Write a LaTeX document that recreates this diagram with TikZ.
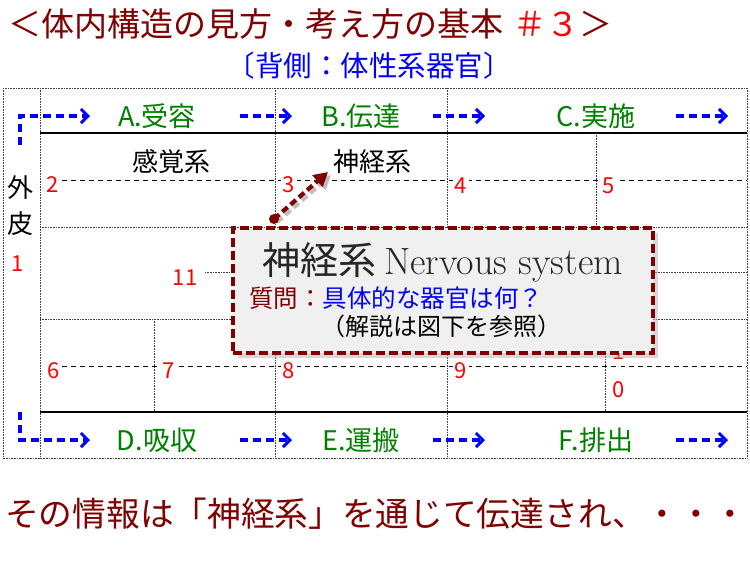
\documentclass[tikz,border=0pt]{standalone}
\usepackage{fontspec}
\setmainfont{Noto Sans CJK JP}
\newfontfamily\lmfont{Latin Modern Roman}
\usetikzlibrary{arrows.meta, positioning, shadows, calc}
\definecolor{darkred}{HTML}{800000}
\definecolor{leafgreen}{HTML}{008000}
\newcommand{\fsz}[1]{\fontsize{#1}{#1}\selectfont}

\begin{document}
\begin{tikzpicture}[x=1pt, y=-1pt,
    grid/.style={densely dotted, line width=0.6pt, black!75},
    rule/.style={line width=1.3pt},
    guide/.style={dash pattern=on 5pt off 4pt, line width=1pt},
    flow/.style={blue, line width=3.2pt, dash pattern=on 8pt off 5pt,
        -{Straight Barb[length=7pt, width=14pt, line width=3pt]}},
    stage/.style={text=leafgreen, font=\fsz{27}, inner sep=1pt},
    organ/.style={font=\fsz{26}, inner sep=1pt},
    num/.style={text=red, font=\fsz{22}, fill=white, inner sep=1.5pt},
    callout/.style={draw=darkred, fill=black!6, line width=3.4pt,
        dash pattern=on 9pt off 4pt, minimum width=420pt, minimum height=125pt,
        drop shadow={shadow xshift=5pt, shadow yshift=-5pt, fill=black!30}},
    pointer/.style={line width=4.2pt, dash pattern=on 7pt off 4pt,
        -{Triangle[length=14pt, width=15pt]}}
]
    \useasboundingbox (0,0) rectangle (750,563);
    % titles
    \node[anchor=west, font=\fsz{33}, text=darkred, inner sep=0] (title) at (8,24)
        {＜体内構造の見方・考え方の基本\hspace{10pt}\textcolor{red}{＃３}＞};
    \node[font=\fsz{28.5}, text=blue, inner sep=0] (subtitle) at (369,66) {〔背側：体性系器官〕};

    % table frame
    \draw[grid] (3,88) rectangle (747,458);
    \foreach \x in {40,275,447}
        \draw[grid] (\x,88) -- (\x,458);
    \draw[grid] (596,133) -- (596,227);
    \draw[grid] (154,319) -- (154,412);
    \draw[grid] (605,319) -- (605,412);
    \foreach \y in {227,319}
        \draw[grid] (40,\y) -- (747,\y);
    \draw[grid] (205,272) -- (747,272);
    \draw[rule] (40,133) -- (747,133);
    \draw[rule] (40,412) -- (747,412);
    \draw[guide] (62,180) -- (747,180);
    \draw[guide] (62,366) -- (747,366);

    % stages
    \node[stage] (stA) at (157,116) {A.受容};
    \node[stage] (stB) at (361,116) {B.伝達};
    \node[stage] (stC) at (596,116) {C.実施};
    \node[stage] (stD) at (157,440) {D.吸収};
    \node[stage] (stE) at (361,440) {E.運搬};
    \node[stage] (stF) at (596,440) {F.排出};
    \draw[flow] (20,145) -- (20,116) -- (90,116);
    \draw[flow] (20,412) -- (20,440) -- (90,440);
    \foreach \y in {116,440}
        \foreach \x in {240,433,676}
            \draw[flow] (\x,\y) -- ++(52,0);

    % organ systems
    \node[organ] (sense) at (171,162) {感覚系};
    \node[organ] (nerve) at (372,162) {神経系};
    \node[organ] (skinA) at (20,188) {外};
    \node[organ] (skinB) at (20,224) {皮};
    \node[num] (n1) at (18,264) {1};
    \foreach \n/\x/\y in {2/53/185, 3/289/185, 4/461/186, 5/609/186, 11/185/278,
                          6/54/371, 7/169/371, 8/289/371, 9/461/371}
        \node[num] (n\n) at (\x,\y) {\n};
    \node[num, minimum height=60pt] (n10) at (619,370) {};
    \node[text=red, font=\fsz{22}, inner sep=0] (n10a) at (619,352) {1};
    \node[text=red, font=\fsz{22}, inner sep=0] (n10b) at (619,390) {0};

    % callout
    \node[callout] (box) at (443,290.5) {};
    \node[font=\fsz{38}, text=black!85, inner sep=0] (boxtitle) at (442.5,262)
        {神経系\hspace{8pt}{\lmfont Nervous system}};
    \node[anchor=west, font=\fsz{24.5}, inner sep=0] (boxq) at (249,298)
        {\textcolor{darkred}{質問：}\textcolor{blue}{具体的な器官は何？}};
    \node[font=\fsz{24}, inner sep=0] (boxnote) at (441.5,326) {（解説は図下を参照）};
    \coordinate (tail) at (274,219);
    \coordinate (head) at (328,172);
    \draw[pointer, black!25] ($(tail)+(3,3)$) -- ($(head)+(3,3)$);
    \draw[pointer, darkred] (tail) -- (head);
    \fill[darkred] (tail) circle[radius=5pt];

    % summary
    \node[anchor=west, font=\fsz{33.7}, text=darkred, inner sep=0] (summary) at (5,514)
        {その情報は「神経系」を通じて伝達され、・・・};
\end{tikzpicture}
\end{document}
